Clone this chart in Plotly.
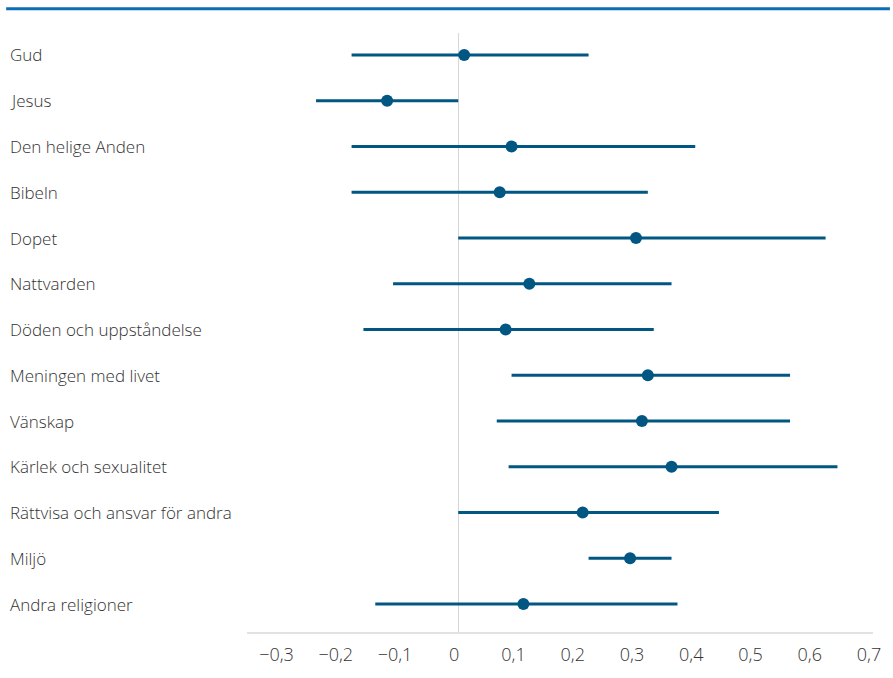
import plotly.graph_objects as go

categories = [
    "Gud", "Jesus", "Den helige Anden", "Bibeln", "Dopet", "Nattvarden",
    "Döden och uppståndelse", "Meningen med livet", "Vänskap",
    "Kärlek och sexualitet", "Rättvisa och ansvar för andra", "Miljö",
    "Andra religioner",
]
estimate = [0.01, -0.12, 0.09, 0.07, 0.30, 0.12, 0.08, 0.32, 0.31, 0.36, 0.21, 0.29, 0.11]
ci_low = [-0.18, -0.24, -0.18, -0.18, 0.00, -0.11, -0.16, 0.09, 0.065, 0.085, 0.00, 0.22, -0.14]
ci_high = [0.22, 0.00, 0.40, 0.32, 0.62, 0.36, 0.33, 0.56, 0.56, 0.64, 0.44, 0.36, 0.37]

tick_values = [-0.3, -0.2, -0.1, 0, 0.1, 0.2, 0.3, 0.4, 0.5, 0.6, 0.7]
tick_labels = ["−0,3", "−0,2", "−0,1", "0", "0,1", "0,2", "0,3", "0,4", "0,5", "0,6", "0,7"]

W, H = 893, 678
ML, MR, MT, MB = 247, 17, 33, 40
PW = W - ML - MR

color = "#015682"
text_color = "#333333"
font_family = "Open Sans, Noto Sans, sans-serif"

err_plus = [h - e for h, e in zip(ci_high, estimate)]
err_minus = [e - l for e, l in zip(estimate, ci_low)]

fig = go.Figure()
fig.add_trace(go.Scatter(
    x=estimate, y=categories, mode="markers",
    marker=dict(color=color, size=12, line=dict(width=0)),
    error_x=dict(type="data", symmetric=False, array=err_plus, arrayminus=err_minus,
                 color=color, thickness=3, width=0),
    showlegend=False, hoverinfo="x+y",
))

for c in categories:
    fig.add_annotation(
        x=(7 - ML) / PW, xref="paper", xanchor="left",
        y=c, yref="y", yanchor="middle",
        text=c, showarrow=False,
        font=dict(family=font_family, size=17, color=text_color, weight=300),
    )

# top rule
fig.add_shape(type="line", xref="paper", yref="paper",
              x0=(5 - ML) / PW, x1=(W - ML) / PW,
              y0=1 + (MT - 8.5) / (H - MT - MB), y1=1 + (MT - 8.5) / (H - MT - MB),
              line=dict(color="#0b6db4", width=3))

fig.update_layout(
    width=W, height=H,
    margin=dict(l=ML, r=MR, t=MT, b=MB, pad=0),
    plot_bgcolor="white", paper_bgcolor="white",
    font=dict(family=font_family, color=text_color),
    xaxis=dict(
        range=[-0.3565, 0.7], tickvals=tick_values, ticktext=tick_labels,
        showgrid=False, zeroline=True, zerolinecolor="#d6d6d6", zerolinewidth=1,
        showline=True, linecolor="#e2e2e2", linewidth=1.5,
        ticks="", tickfont=dict(size=18, color=text_color, weight=300),
        ticklabelstandoff=6, ticklabelshift=-4,
    ),
    yaxis=dict(
        categoryorder="array", categoryarray=categories,
        range=[12.61, -0.48], showgrid=False, zeroline=False,
        showline=False, showticklabels=False, ticks="",
    ),
)

fig.write_html(
    "out.html",
    config={"displayModeBar": False, "responsive": False},
    post_script="document.body.style.margin='0';document.body.style.overflow='hidden';",
)
